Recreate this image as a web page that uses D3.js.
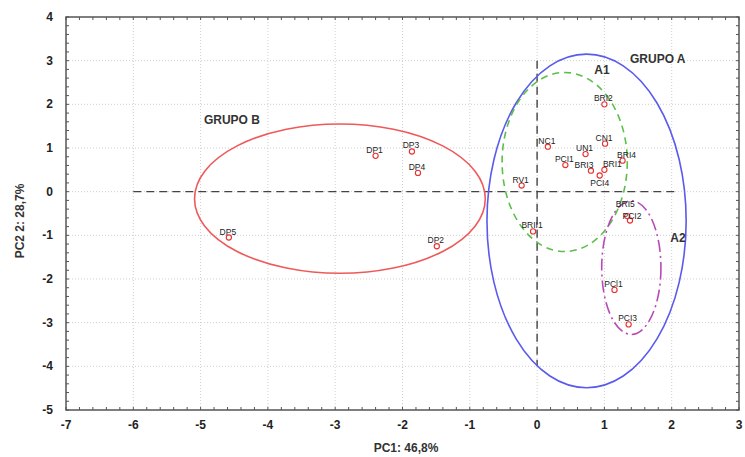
<!DOCTYPE html>
<html>
<head>
<meta charset="utf-8">
<script src="https://cdn.jsdelivr.net/npm/d3@7"></script>
<style>
  body { margin: 0; background: #fff; }
  svg { display: block; font-family: Arial, "Liberation Sans", sans-serif; }
  .tick-label { font-size: 12px; font-weight: bold; fill: #222; }
  .axis-title { font-size: 12px; font-weight: bold; fill: #333; }
  .pt-label { font-size: 8.5px; fill: #222; }
  .grp-label { font-size: 12px; font-weight: bold; fill: #333; }
</style>
</head>
<body>
<div id="chart"></div>
<script>
// scores
var names = ["BRI2", "NC1", "CN1", "UN1", "PCI1", "BRI4", "BRI3", "BRI1", "PCI4", "RV1", "BRII1",
             "BRI5", "PCI2", "PCl1", "PCI3", "DP1", "DP3", "DP4", "DP5", "DP2"];
var pc1 = [1.0, 0.16, 1.01, 0.72, 0.42, 1.27, 0.80, 1.0, 0.93, -0.23, -0.06,
           1.34, 1.38, 1.15, 1.36, -2.40, -1.86, -1.77, -4.58, -1.49];
var pc2 = [2.0, 1.03, 1.10, 0.86, 0.61, 0.71, 0.48, 0.50, 0.37, 0.14, -0.91,
           -0.56, -0.66, -2.25, -3.04, 0.82, 0.92, 0.43, -1.05, -1.25];

// label nudges (px) so the crowded names stay apart
var labelDx = [-1, -1, -1, -1, -1, 4, -7, 8, 0, -1, -1,
               -2, 2, -1, -1, -1, -1, -1, -1, -1];
var labelDy = [-3, -3, -3, -3, -3, -3, -3, -3, 10, -3, -3,
               -9, -1, -3, -3, -3, -3, -3, -3, -3];

// groups: centre and radii in score units
var grpNames = ["GRUPO B", "GRUPO A", "A1", "A2"];
var grpCx = [-2.93, 0.735, 0.41, 1.40];
var grpCy = [-0.16, -0.67, 0.68, -1.74];
var grpRx = [2.16, 1.48, 0.93, 0.44];
var grpRy = [1.71, 3.82, 2.05, 1.53];
var grpColor = ["#ee5a5a", "#5a5aee", "#5cbf4a", "#b84ab8"];
var grpDash = [null, null, "7,5", "12,4,2,4"];
var grpLabelX = [-4.95, 1.38, 0.85, 1.98];
var grpLabelY = [1.55, 2.95, 2.7, -1.15];

var xTicks = d3.range(-7, 4);
var yTicks = d3.range(-5, 5);

var width = 745, height = 457;
var margin = {top: 17, right: 6, bottom: 47, left: 66};

var x = d3.scaleLinear().domain([-7, 3]).range([margin.left, width - margin.right]);
var y = d3.scaleLinear().domain([-5, 4]).range([height - margin.bottom, margin.top]);

var svg = d3.select("#chart").append("svg")
    .attr("width", width)
    .attr("height", height);

// dotted grid
var grid = svg.append("g").classed("grid", true);
grid.selectAll(".gx").data(xTicks.slice(1, -1)).enter().append("line")
    .attr("x1", d => x(d)).attr("x2", d => x(d))
    .attr("y1", y(-5)).attr("y2", y(4))
    .style("stroke", "#cfcfcf").style("stroke-dasharray", "1,2").style("stroke-width", 1);
grid.selectAll(".gy").data(yTicks.slice(1, -1)).enter().append("line")
    .attr("y1", d => y(d)).attr("y2", d => y(d))
    .attr("x1", x(-7)).attr("x2", x(3))
    .style("stroke", "#cfcfcf").style("stroke-dasharray", "1,2").style("stroke-width", 1);

// reference lines through origin
svg.append("line")
    .attr("x1", x(-6)).attr("x2", x(2.05))
    .attr("y1", y(0)).attr("y2", y(0))
    .style("stroke", "#444").style("stroke-width", 1.4).style("stroke-dasharray", "8,5");
svg.append("line")
    .attr("x1", x(0)).attr("x2", x(0))
    .attr("y1", y(3)).attr("y2", y(-4))
    .style("stroke", "#444").style("stroke-width", 1.4).style("stroke-dasharray", "8,5");

// group ellipses
svg.append("g").selectAll("ellipse").data(grpNames).enter().append("ellipse")
    .attr("cx", (d, i) => x(grpCx[i]))
    .attr("cy", (d, i) => y(grpCy[i]))
    .attr("rx", (d, i) => x(grpCx[i] + grpRx[i]) - x(grpCx[i]))
    .attr("ry", (d, i) => y(grpCy[i]) - y(grpCy[i] + grpRy[i]))
    .style("fill", "none")
    .style("stroke", (d, i) => grpColor[i])
    .style("stroke-width", 1.6)
    .style("stroke-dasharray", (d, i) => grpDash[i]);

svg.append("g").selectAll("text").data(grpNames).enter().append("text")
    .classed("grp-label", true)
    .attr("x", (d, i) => x(grpLabelX[i]))
    .attr("y", (d, i) => y(grpLabelY[i]))
    .text(d => d);

// points
var pts = svg.append("g").selectAll("g").data(names).enter().append("g")
    .attr("transform", (d, i) => "translate(" + x(pc1[i]) + "," + y(pc2[i]) + ")");
pts.append("circle")
    .attr("r", 2.6)
    .style("fill", "#fff")
    .style("stroke", "#e83030")
    .style("stroke-width", 1.1);
pts.append("text")
    .classed("pt-label", true)
    .attr("x", (d, i) => labelDx[i])
    .attr("y", (d, i) => labelDy[i])
    .attr("text-anchor", "middle")
    .text(d => d);

// frame
svg.append("rect")
    .attr("x", x(-7)).attr("y", y(4))
    .attr("width", x(3) - x(-7)).attr("height", y(-5) - y(4))
    .style("fill", "none").style("stroke", "#555").style("stroke-width", 1.5);

// inward ticks on all four sides
var minorX = d3.range(-7, 3.001, 0.2), minorY = d3.range(-5, 4.001, 0.2);
var ticks = svg.append("g").style("stroke", "#555").style("stroke-width", 1);
ticks.selectAll(".tb").data(minorX).enter().append("line")
    .attr("x1", d => x(d)).attr("x2", d => x(d))
    .attr("y1", y(-5)).attr("y2", y(-5) - 3);
ticks.selectAll(".tt").data(minorX).enter().append("line")
    .attr("x1", d => x(d)).attr("x2", d => x(d))
    .attr("y1", y(4)).attr("y2", y(4) + 3);
ticks.selectAll(".tl").data(minorY).enter().append("line")
    .attr("y1", d => y(d)).attr("y2", d => y(d))
    .attr("x1", x(-7)).attr("x2", x(-7) + 3);
ticks.selectAll(".tr").data(minorY).enter().append("line")
    .attr("y1", d => y(d)).attr("y2", d => y(d))
    .attr("x1", x(3)).attr("x2", x(3) - 3);

// tick labels
svg.append("g").selectAll("text").data(xTicks).enter().append("text")
    .classed("tick-label", true)
    .attr("x", d => x(d))
    .attr("y", y(-5) + 19)
    .attr("text-anchor", "middle")
    .text(d => d);
svg.append("g").selectAll("text").data(yTicks).enter().append("text")
    .classed("tick-label", true)
    .attr("x", x(-7) - 13)
    .attr("y", d => y(d) + 4)
    .attr("text-anchor", "end")
    .text(d => d);

svg.append("text")
    .classed("axis-title", true)
    .attr("x", 406)
    .attr("y", 452)
    .attr("text-anchor", "middle")
    .text("PC1: 46,8%");
svg.append("text")
    .classed("axis-title", true)
    .attr("transform", "translate(24, 221) rotate(-90)")
    .attr("text-anchor", "middle")
    .text("PC2 2: 28,7%");
</script>
</body>
</html>
